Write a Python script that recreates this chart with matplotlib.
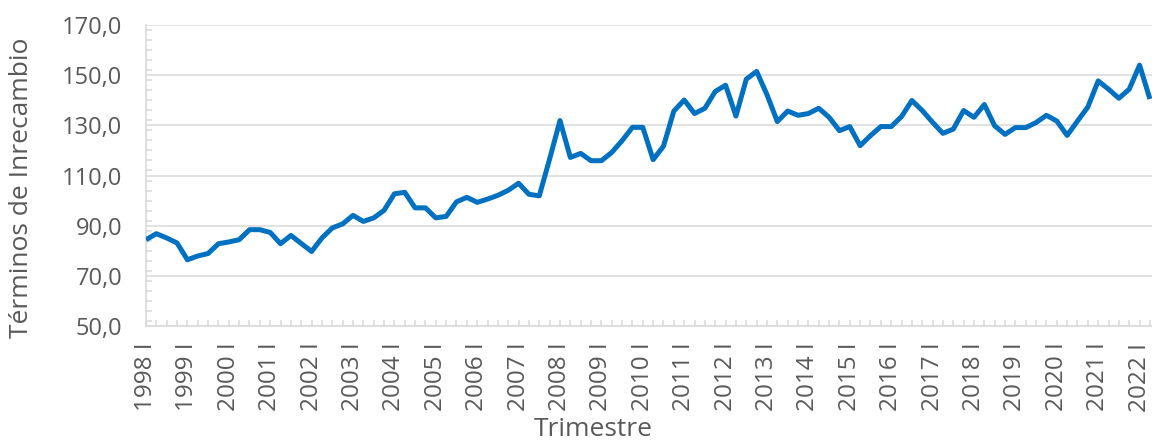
import matplotlib
matplotlib.use("Agg")
import matplotlib.pyplot as plt
from matplotlib.ticker import MultipleLocator, FixedLocator

# Quarterly categories 1998 I .. 2022 II
years = list(range(1998, 2023))
roman = ["I", "II", "III", "IV"]
quarters = [f"{y} {q}" for y in years for q in roman][:98]

terms_of_trade = [
    84.4, 86.8, 85.1, 83.1, 76.4, 77.9, 78.9, 82.8,   # 1998-1999
    83.5, 84.4, 88.4, 88.4, 87.3, 82.8, 86.1, 82.9,   # 2000-2001
    79.7, 85.1, 89.1, 90.7, 94.1, 91.7, 93.1, 96.1,   # 2002-2003
    102.7, 103.3, 97.1, 97.1, 93.1, 93.7, 99.5, 101.3,  # 2004-2005
    99.3, 100.6, 102.1, 104.1, 106.9, 102.5, 101.9, 116.6,  # 2006-2007
    131.9, 117.2, 118.8, 115.9, 115.9, 119.2, 123.9, 129.2,  # 2008-2009
    129.2, 116.3, 121.7, 135.7, 140.1, 134.7, 136.8, 143.5,  # 2010-2011
    146.0, 133.7, 148.4, 151.5, 142.2, 131.5, 135.7, 134.0,  # 2012-2013
    134.7, 136.8, 133.2, 127.9, 129.5, 121.9, 125.9, 129.5,  # 2014-2015
    129.5, 133.5, 139.9, 135.9, 131.2, 126.8, 128.5, 135.9,  # 2016-2017
    133.2, 138.3, 129.8, 126.4, 129.1, 129.1, 131.1, 134.0,  # 2018-2019
    131.7, 126.0, 131.7, 137.3, 147.7, 144.4, 140.8, 144.4,  # 2020-2021
    154.0, 140.5,                                           # 2022
]

year_labels = [f"{y} I" for y in years]

y_min, y_max, y_step = 50, 170, 20

text_color = "#595959"
grid_color = "#d9d9d9"
line_color = "#0070C0"
font = ["Open Sans", "DejaVu Sans"]

plt.rcParams["font.family"] = font

W, H = 1152, 444
fig = plt.figure(figsize=(W / 100, H / 100), dpi=100)
left, right, top, bottom = 146, 1152, 25, 326
ax = fig.add_axes([left / W, 1 - bottom / H, (right - left) / W, (bottom - top) / H])

x = list(range(len(terms_of_trade)))
ax.plot(x, terms_of_trade, color=line_color, linewidth=3.6, solid_joinstyle="round",
        solid_capstyle="butt", zorder=3)

ax.set_xlim(0, 97.2)
ax.set_ylim(y_min, y_max)

ax.yaxis.set_minor_locator(MultipleLocator(4))
ax.set_yticks(list(range(y_min, y_max + 1, y_step)))
ax.set_yticklabels([f"{v},0" for v in range(y_min, y_max + 1, y_step)])

ax.xaxis.set_major_locator(FixedLocator(list(range(0, len(quarters), 4))))
ax.xaxis.set_minor_locator(FixedLocator(list(range(len(quarters)))))
ax.set_xticklabels(year_labels[: len(range(0, len(quarters), 4))], rotation=90)

ax.grid(axis="y", which="major", color=grid_color, linewidth=1.1, zorder=0)
ax.set_axisbelow(True)

for s in ["top", "right"]:
    ax.spines[s].set_visible(False)
for s in ["left", "bottom"]:
    ax.spines[s].set_color(grid_color)
    ax.spines[s].set_linewidth(1.2)

ax.tick_params(axis="y", which="major", length=0, pad=17, labelsize=17, labelcolor=text_color)
ax.tick_params(axis="y", which="minor", direction="in", length=4, width=1.1, color=grid_color)
ax.tick_params(axis="x", which="both", direction="in", length=4.5, width=1.1, color=grid_color)
ax.tick_params(axis="x", which="major", pad=12, labelsize=17.5, labelcolor=text_color)

fig.text(22 / W, 1 - 188 / H, "Términos de Inrecambio", rotation=90, ha="center", va="center",
         fontsize=19, color=text_color)
fig.text(593 / W, 1 - 442 / H, "Trimestre", ha="center", va="bottom",
         fontsize=19, color=text_color)

fig.savefig("out.png", dpi=100)
